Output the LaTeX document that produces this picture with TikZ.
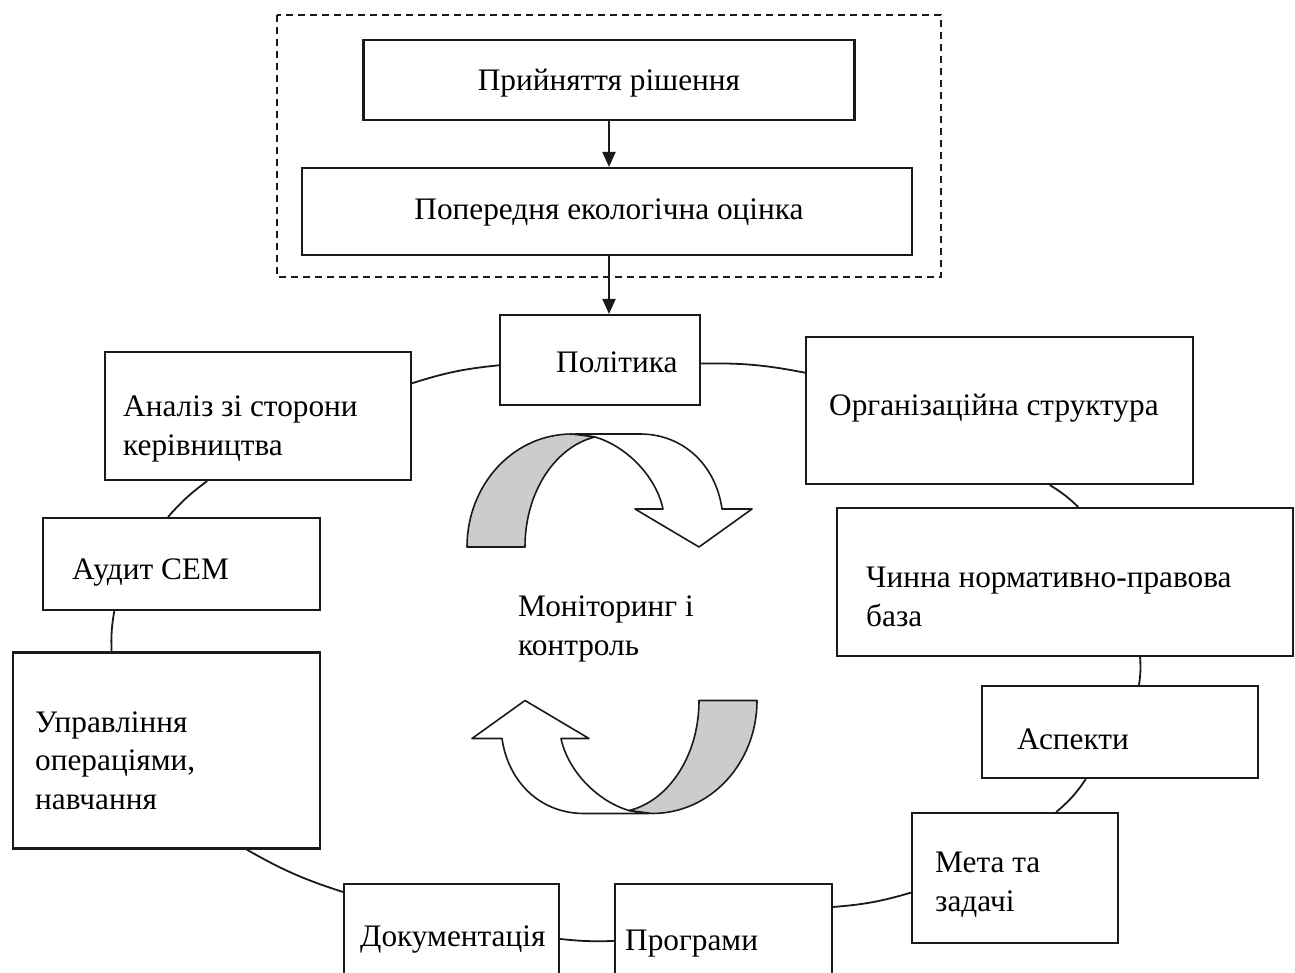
\documentclass[tikz,border=0pt]{standalone}
\usepackage{fontspec}
\setmainfont{Liberation Serif}
\usetikzlibrary{arrows.meta}

\definecolor{ink}{HTML}{1A1A1A}
\definecolor{shade}{HTML}{CCCCCC}

\tikzset{
  box/.style={draw=ink, line width=2.1pt, rectangle, inner sep=0pt, fill=white},
  % multi-line labels are anchored at the baseline of their last line
  label/.style={inner sep=0pt, anchor=base west, align=left, font=\fontsize{31.3}{38.5}\selectfont},
  ctext/.style={inner sep=0pt, font=\fontsize{31.3}{38.5}\selectfont},
  link/.style={draw=ink, line width=1.8pt},
  flow/.style={draw=ink, line width=2pt, -{Triangle[length=15pt,width=13pt]}},
  ribbon/.style={draw=ink, line width=1.6pt, line join=round},
}

\begin{document}
\begin{tikzpicture}[x=1pt, y=-1pt]
\clip (0,0) rectangle (1295,973);
\fill[white] (0,0) rectangle (1295,973);

% decision block
\draw[ink, line width=1.8pt, dash pattern=on 7pt off 5pt] (277,15) rectangle (941,277);
\node[box, minimum width=491pt, minimum height=80pt] (dec) at (609,80) {};
\node[ctext] (decT) at (609,83) {Прийняття рішення};
\node[box, minimum width=610pt, minimum height=87pt] (pre) at (607,211.5) {};
\node[ctext] (preT) at (609,212) {Попередня екологічна оцінка};

% cycle boxes
\node[box, minimum width=200pt, minimum height=90pt] (pol) at (600,360) {};
\node[box, minimum width=387pt, minimum height=147pt] (org) at (999.5,410.5) {};
\node[box, minimum width=456pt, minimum height=148pt] (law) at (1065,582) {};
\node[box, minimum width=276pt, minimum height=92pt] (asp) at (1120,732) {};
\node[box, minimum width=206pt, minimum height=130pt] (goal) at (1015,878) {};
\node[box, minimum width=217pt, minimum height=130pt] (prog) at (723.5,949) {};
\node[box, minimum width=215pt, minimum height=130pt] (doc) at (451.5,949) {};
\node[box, minimum width=307pt, minimum height=196pt] (ops) at (166.5,750.5) {};
\node[box, minimum width=277pt, minimum height=92pt] (aud) at (181.5,564) {};
\node[box, minimum width=306pt, minimum height=128pt] (rev) at (258,416) {};

% box texts
\node[label] (polT) at (556,372) {Політика};
\node[label] (orgT) at (829,415) {Організаційна структура};
\node[label] (lawT) at (866,626) {Чинна нормативно-правова\\база};
\node[label] (aspT) at (1017,749) {Аспекти};
\node[label] (goalT) at (935,911) {Мета та\\задачі};
\node[label] (progT) at (625,950) {Програми};
\node[label] (docT) at (360,946) {Документація};
\node[label] (opsT) at (35,809) {Управління\\операціями,\\навчання};
\node[label] (audT) at (72,579) {Аудит СЕМ};
\node[label] (revT) at (123,455) {Аналіз зі сторони\\керівництва};
\node[label] (monT) at (518,655) {Моніторинг і\\контроль};

% downward flow
\draw[flow] (dec.south) -- (dec.south |- pre.north);
\draw[flow] (dec.south |- pre.south) -- (dec.south |- pol.north);

% links around the cycle
\draw[link] (rev.12.2) to[bend left=6] (pol.183.4);
\draw[link] (pol.358.3) to[bend left=6] (org.169.6);
\draw[link] (org.304.5) to[bend left=6] (law.80.8);
\draw[link] (law.315) to[bend left=6] (asp.68.6);
\draw[link] (asp.234.3) to[bend left=8] (goal.58.4);
\draw[link] (goal.188.3) to[bend left=6] ([yshift=-24pt]prog.north east);
\draw[link] ([yshift=-58pt]prog.north west) to[bend left=4] ([yshift=-56pt]doc.north east);
\draw[link] ([yshift=-9pt]doc.north west) to[bend left=6] (ops.309.9);
\draw[link] (ops.119.2) to[bend left=6] (aud.215.5);
\draw[link] (aud.106.4) to[bend left=6] (rev.232);

% circular ribbon arrows
\newcommand\ribbonarrow{%
  \filldraw[ribbon, fill=white]
    (595,437) .. controls (626,446) and (656,476) .. (663,509)
    -- (635,509) -- (699,547) -- (752,509) -- (722,509)
    .. controls (716,466) and (684,434) .. (640,434)
    -- (575,434) -- cycle;
  \filldraw[ribbon, fill=shade]
    (467,547) .. controls (467,485) and (513,434) .. (572,434)
    -- (595,437) .. controls (557,446) and (525,490) .. (525,547)
    -- cycle;
}
\ribbonarrow
\begin{scope}[rotate around={180:(612,623.75)}]
\ribbonarrow
\end{scope}

\end{tikzpicture}
\end{document}
